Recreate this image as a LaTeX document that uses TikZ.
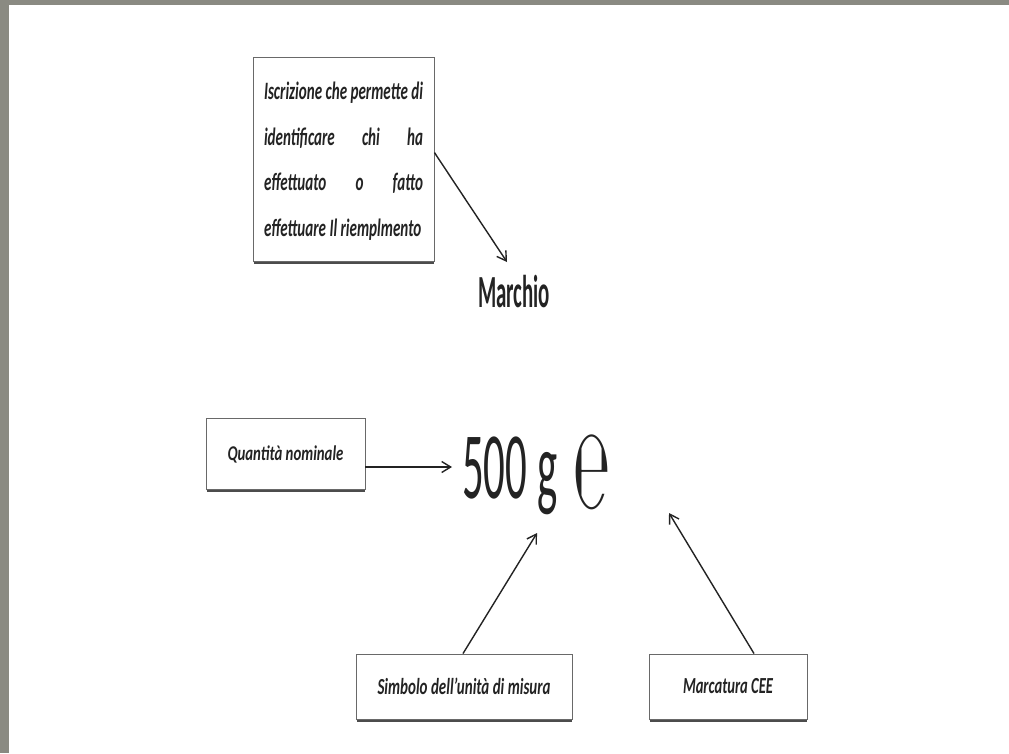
\documentclass[tikz,border=0pt]{standalone}
\usepackage{fontspec}
\setmainfont{Carlito}
\newfontfamily\dejavu{DejaVu Sans}
\usepackage{graphicx}
\usetikzlibrary{arrows.meta,calc}
\definecolor{bordergray}{RGB}{138,138,130}
\definecolor{ink}{RGB}{35,35,35}
\definecolor{boxline}{RGB}{105,105,105}
\newlength\lineW
\newcommand\squeeze[2]{\resizebox{#1}{\height}{#2}}
\tikzset{
  infobox/.style={draw=boxline, line width=0.9pt, fill=white, inner sep=0pt, text=ink, align=center},
  conn/.style={draw=ink, line width=1.4pt, -{Straight Barb[length=9pt,width=11pt]}},
  shadowline/.style={draw=black!70, line width=2pt},
  plain/.style={inner sep=0pt, text=ink}
}
\begin{document}
\begin{tikzpicture}[x=1pt,y=-1pt]
\useasboundingbox (0,0) rectangle (1009,753);
\fill[white] (0,0) rectangle (1009,753);
\fill[bordergray] (0,0) rectangle (9,753);
\fill[bordergray] (0,0) rectangle (1009,5);

% top box
\node[infobox, minimum width=181pt, minimum height=204pt] (iscr) at (343.5,159)
  {\squeeze{159pt}{\fontsize{25}{45.6}\selectfont\bfseries\itshape
   \settowidth{\lineW}{Iscrizione che permette di}%
   \begin{tabular}{@{}l@{}}
   \makebox[\lineW][s]{Iscrizione che permette di}\\
   \makebox[\lineW][s]{identificare chi ha}\\
   \makebox[\lineW][s]{effettuato o fatto}\\
   effettuare Il riemplmento
   \end{tabular}}};
\draw[shadowline] ($(iscr.south west)+(1,1.5)$) -- ($(iscr.south east)+(0,1.5)$);

\node[plain, anchor=base west] (marchio) at (478,307)
  {\squeeze{72pt}{\fontsize{46}{50}\selectfont\bfseries Marchio}};
\coordinate (mtip) at (507,262);
\draw[conn] ($(iscr.north east)+(0,96)$) -- (mtip);

% quantity
\node[infobox, minimum width=159pt, minimum height=71pt] (quant) at (285.5,454)
  {\squeeze{116pt}{\fontsize{21}{25}\selectfont\bfseries\itshape Quantità nominale}};
\draw[shadowline] ($(quant.south west)+(1,1.5)$) -- ($(quant.south east)+(0,1.5)$);

\node[plain, anchor=base west] (qty) at (462,498)
  {\squeeze{95pt}{\fontsize{95}{100}\selectfont 500 g}};
\node[plain] (emark) at (591.5,472.5)
  {\resizebox*{37pt}{75pt}{\dejavu ℮}};
\coordinate (qtip) at (452,467);
\draw[conn] ($(quant.east)+(0,13)$) -- (qtip);

% bottom boxes
\node[infobox, minimum width=216pt, minimum height=65pt] (simb) at (464,686.5)
  {\squeeze{173pt}{\fontsize{23}{27}\selectfont\bfseries\itshape Simbolo dell’unità di misura}};
\draw[shadowline] ($(simb.south west)+(1,1.5)$) -- ($(simb.south east)+(0,1.5)$);

\node[infobox, minimum width=158pt, minimum height=65pt] (marc) at (728,686.5)
  {\squeeze{90pt}{\fontsize{23}{27}\selectfont\bfseries\itshape Marcatura CEE}};
\draw[shadowline] ($(marc.south west)+(1,1.5)$) -- ($(marc.south east)+(0,1.5)$);

\coordinate (gtip) at (537,533);
\coordinate (etip) at (669,513);
\draw[conn] ($(simb.north)+(-1,0)$) -- (gtip);
\draw[conn] ($(marc.north)+(26,0)$) -- (etip);
\end{tikzpicture}
\end{document}
